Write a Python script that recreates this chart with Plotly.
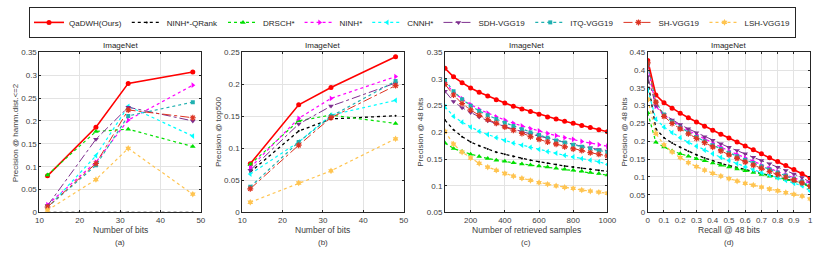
import plotly.graph_objects as go
from plotly.subplots import make_subplots

methods = ["QaDWH(Ours)", "NINH*-QRank", "DRSCH*", "NINH*", "CNNH*",
           "SDH-VGG19", "ITQ-VGG19", "SH-VGG19", "LSH-VGG19"]

# (a) Precision @ hamming dist <= 2 vs number of bits
bits = [12, 24, 32, 48]
prec_hamm = {
    "QaDWH(Ours)": [0.080, 0.186, 0.282, 0.307],
    "NINH*-QRank": [0.0, 0.0, 0.0, 0.0],
    "DRSCH*":      [0.082, 0.177, 0.182, 0.144],
    "NINH*":       [0.017, 0.110, 0.202, 0.278],
    "CNNH*":       [0.010, 0.124, 0.232, 0.167],
    "SDH-VGG19":   [0.015, 0.160, 0.230, 0.200],
    "ITQ-VGG19":   [0.012, 0.103, 0.211, 0.241],
    "SH-VGG19":    [0.012, 0.107, 0.224, 0.207],
    "LSH-VGG19":   [0.005, 0.072, 0.140, 0.040],
}

# (b) Precision @ top500 vs number of bits
prec_top500 = {
    "QaDWH(Ours)": [0.076, 0.168, 0.195, 0.243],
    "NINH*-QRank": [0.063, 0.127, 0.146, 0.151],
    "DRSCH*":      [0.075, 0.143, 0.152, 0.139],
    "NINH*":       [0.070, 0.147, 0.178, 0.212],
    "CNNH*":       [0.060, 0.110, 0.152, 0.175],
    "SDH-VGG19":   [0.066, 0.138, 0.166, 0.202],
    "ITQ-VGG19":   [0.040, 0.110, 0.150, 0.205],
    "SH-VGG19":    [0.037, 0.105, 0.148, 0.198],
    "LSH-VGG19":   [0.016, 0.046, 0.065, 0.115],
}

# (c) Precision @ 48 bits vs number of retrieved samples
retrieved = [50, 100, 150, 200, 250, 300, 350, 400, 450, 500,
             550, 600, 650, 700, 750, 800, 850, 900, 950, 1000]
prec_retrieved = {
    "QaDWH(Ours)": [0.320, 0.304, 0.293, 0.283, 0.275, 0.268, 0.261, 0.255, 0.249, 0.244,
                    0.239, 0.234, 0.229, 0.225, 0.221, 0.217, 0.213, 0.209, 0.205, 0.201],
    "NINH*-QRank": [0.223, 0.205, 0.192, 0.182, 0.175, 0.169, 0.163, 0.159, 0.155, 0.151,
                    0.148, 0.145, 0.142, 0.140, 0.137, 0.135, 0.133, 0.131, 0.129, 0.127],
    "DRSCH*":      [0.180, 0.170, 0.164, 0.159, 0.155, 0.151, 0.148, 0.146, 0.143, 0.141,
                    0.139, 0.137, 0.135, 0.133, 0.131, 0.129, 0.127, 0.125, 0.123, 0.120],
    "NINH*":       [0.293, 0.275, 0.263, 0.252, 0.243, 0.236, 0.229, 0.223, 0.217, 0.212,
                    0.207, 0.203, 0.198, 0.194, 0.190, 0.187, 0.183, 0.180, 0.177, 0.174],
    "CNNH*":       [0.248, 0.230, 0.219, 0.210, 0.202, 0.196, 0.190, 0.185, 0.180, 0.176,
                    0.172, 0.168, 0.164, 0.161, 0.157, 0.154, 0.151, 0.148, 0.145, 0.140],
    "SDH-VGG19":   [0.277, 0.258, 0.246, 0.237, 0.229, 0.222, 0.216, 0.211, 0.206, 0.201,
                    0.197, 0.193, 0.189, 0.185, 0.181, 0.178, 0.174, 0.171, 0.168, 0.165],
    "ITQ-VGG19":   [0.298, 0.277, 0.262, 0.250, 0.240, 0.232, 0.225, 0.218, 0.212, 0.206,
                    0.200, 0.195, 0.190, 0.185, 0.181, 0.177, 0.173, 0.170, 0.166, 0.163],
    "SH-VGG19":    [0.290, 0.270, 0.254, 0.242, 0.232, 0.224, 0.217, 0.210, 0.204, 0.198,
                    0.192, 0.187, 0.182, 0.178, 0.173, 0.169, 0.166, 0.162, 0.159, 0.156],
    "LSH-VGG19":   [0.202, 0.178, 0.163, 0.152, 0.142, 0.135, 0.129, 0.123, 0.118, 0.114,
                    0.110, 0.106, 0.103, 0.100, 0.097, 0.095, 0.092, 0.090, 0.088, 0.086],
}

# (d) Precision-recall @ 48 bits
recall = [0.0, 0.05, 0.1, 0.15, 0.2, 0.25, 0.3, 0.35, 0.4, 0.45, 0.5,
          0.55, 0.6, 0.65, 0.7, 0.75, 0.8, 0.85, 0.9, 0.95, 1.0]
prec_recall = {
    "QaDWH(Ours)": [0.427, 0.330, 0.308, 0.293, 0.279, 0.266, 0.254, 0.242, 0.231, 0.220, 0.209,
                    0.198, 0.187, 0.176, 0.165, 0.154, 0.143, 0.132, 0.121, 0.109, 0.096],
    "NINH*-QRank": [0.370, 0.235, 0.210, 0.195, 0.183, 0.172, 0.162, 0.153, 0.145, 0.138, 0.132,
                    0.126, 0.120, 0.114, 0.109, 0.104, 0.099, 0.094, 0.089, 0.083, 0.072],
    "DRSCH*":      [0.280, 0.197, 0.184, 0.173, 0.165, 0.158, 0.151, 0.145, 0.139, 0.133, 0.128,
                    0.122, 0.117, 0.112, 0.107, 0.102, 0.097, 0.092, 0.087, 0.083, 0.070],
    "NINH*":       [0.410, 0.298, 0.273, 0.257, 0.243, 0.230, 0.218, 0.206, 0.195, 0.184, 0.173,
                    0.163, 0.153, 0.143, 0.133, 0.124, 0.115, 0.106, 0.097, 0.089, 0.083],
    "CNNH*":       [0.345, 0.262, 0.240, 0.224, 0.210, 0.197, 0.186, 0.175, 0.165, 0.155, 0.146,
                    0.137, 0.128, 0.120, 0.112, 0.105, 0.097, 0.090, 0.082, 0.075, 0.060],
    "SDH-VGG19":   [0.382, 0.300, 0.275, 0.260, 0.247, 0.235, 0.224, 0.213, 0.203, 0.193, 0.183,
                    0.174, 0.165, 0.155, 0.146, 0.137, 0.127, 0.118, 0.108, 0.098, 0.085],
    "ITQ-VGG19":   [0.415, 0.310, 0.275, 0.255, 0.239, 0.225, 0.212, 0.200, 0.189, 0.178, 0.168,
                    0.158, 0.148, 0.139, 0.130, 0.121, 0.112, 0.104, 0.095, 0.087, 0.076],
    "SH-VGG19":    [0.420, 0.310, 0.270, 0.250, 0.235, 0.221, 0.208, 0.196, 0.184, 0.173, 0.162,
                    0.152, 0.142, 0.133, 0.124, 0.115, 0.107, 0.099, 0.091, 0.083, 0.073],
    "LSH-VGG19":   [0.318, 0.222, 0.190, 0.170, 0.154, 0.140, 0.129, 0.119, 0.110, 0.102, 0.095,
                    0.088, 0.082, 0.077, 0.071, 0.066, 0.061, 0.056, 0.051, 0.046, 0.038],
}

styles = {
    "QaDWH(Ours)": dict(color="#ff0000", dash="solid", symbol="circle", width=1.6, size=5),
    "NINH*-QRank": dict(color="#000000", dash="dot", symbol="circle", width=1.3, size=2),
    "DRSCH*":      dict(color="#00e000", dash="dot", symbol="triangle-up", width=1.2, size=5),
    "NINH*":       dict(color="#ff00ff", dash="dot", symbol="triangle-right", width=1.2, size=5),
    "CNNH*":       dict(color="#00ffff", dash="dot", symbol="triangle-left", width=1.2, size=5),
    "SDH-VGG19":   dict(color="#7e2f8e", dash="dashdot", symbol="triangle-down", width=1.0, size=5),
    "ITQ-VGG19":   dict(color="#1fb0b0", dash="dot", symbol="square", width=1.2, size=4),
    "SH-VGG19":    dict(color="#dd3322", dash="dashdot", symbol="asterisk-open", width=1.0, size=5),
    "LSH-VGG19":   dict(color="#ffc450", dash="dot", symbol="hexagram", width=1.2, size=5),
}

FONT = "Liberation Sans, Arial, sans-serif"
fig = make_subplots(rows=1, cols=4)

panels = [(bits, prec_hamm), (bits, prec_top500), (retrieved, prec_retrieved), (recall, prec_recall)]
for ci, (xs, data) in enumerate(panels, start=1):
    for m in methods:
        s = styles[m]
        mk = dict(symbol=s["symbol"], size=s["size"], color=s["color"])
        if s["symbol"] == "asterisk-open":
            mk["line"] = dict(color=s["color"], width=1.2)
        fig.add_trace(go.Scatter(
            x=xs, y=data[m], name=m, mode="lines+markers",
            line=dict(color=s["color"], dash=s["dash"], width=s["width"]),
            marker=mk, showlegend=(ci == 1), legendgroup=m), row=1, col=ci)

W, H = 830, 259
def px_x(p): return p / W
def px_y(p): return 1 - p / H

xdom = [(36, 200), (242, 406), (448, 613), (654, 819)]
ydom = (px_y(216), px_y(50))
xranges = [[10, 50], [10, 50], [50, 1000], [0, 1]]
yranges = [[0, 0.35], [0, 0.25], [0.05, 0.35], [0, 0.45]]
xdticks = [10, 10, 200, 0.1]
xtick0 = [10, 10, 0, 0]

axis_common = dict(showgrid=True, gridcolor="#e3e3e3", gridwidth=1, showline=True,
                   linecolor="#262626", linewidth=1, mirror="ticks", ticks="inside",
                   ticklen=2, tickcolor="#262626", zeroline=False,
                   tickfont=dict(family=FONT, size=8, color="#404040"))
for i in range(4):
    xa = "xaxis" if i == 0 else f"xaxis{i+1}"
    ya = "yaxis" if i == 0 else f"yaxis{i+1}"
    fig.layout[xa].update(domain=[px_x(xdom[i][0]), px_x(xdom[i][1])], range=xranges[i],
                          dtick=xdticks[i], tick0=xtick0[i], **axis_common)
    fig.layout[ya].update(domain=list(ydom), range=yranges[i], dtick=0.05, tick0=0,
                          **axis_common)

xtitles = ["Number of bits", "Number of bits", "Number of retrieved samples", "Recall @ 48 bits"]
ytitles = ["Precision @ hamm.dist.<=2", "Precision @ top500", "Precision @ 48 bits", "Precision @ 48 bits"]
ytitle_x = [12, 218, 423, 630]
labels = ["(a)", "(b)", "(c)", "(d)"]
ann = []
for i in range(4):
    cx = (xdom[i][0] + xdom[i][1]) / 2
    common = dict(xref="paper", yref="paper", showarrow=False, xanchor="center", yanchor="middle")
    ann.append(dict(text="ImageNet", x=px_x(cx), y=px_y(43),
                    font=dict(family=FONT, size=8, color="#262626"), **common))
    ann.append(dict(text=xtitles[i], x=px_x(cx), y=px_y(234),
                    font=dict(family=FONT, size=8.5, color="#404040"), **common))
    ann.append(dict(text=labels[i], x=px_x(cx), y=px_y(247),
                    font=dict(family=FONT, size=8, color="#404040"), **common))
    ann.append(dict(text=ytitles[i], x=px_x(ytitle_x[i]), y=px_y(133), textangle=-90,
                    font=dict(family=FONT, size=8, color="#404040"), **common))

fig.update_layout(
    width=W, height=H, margin=dict(l=0, r=0, t=0, b=0),
    paper_bgcolor="white", plot_bgcolor="white",
    annotations=ann,
    legend=dict(orientation="h", x=px_x(415), xanchor="center", y=px_y(3), yanchor="top",
                bordercolor="#262626", borderwidth=1, bgcolor="white",
                font=dict(family=FONT, size=8, color="#262626"),
                itemwidth=30, tracegroupgap=0),
    font=dict(family=FONT),
)

fig.write_html("out.html", config={"displayModeBar": False},
               post_script="document.body.style.margin='0';")
